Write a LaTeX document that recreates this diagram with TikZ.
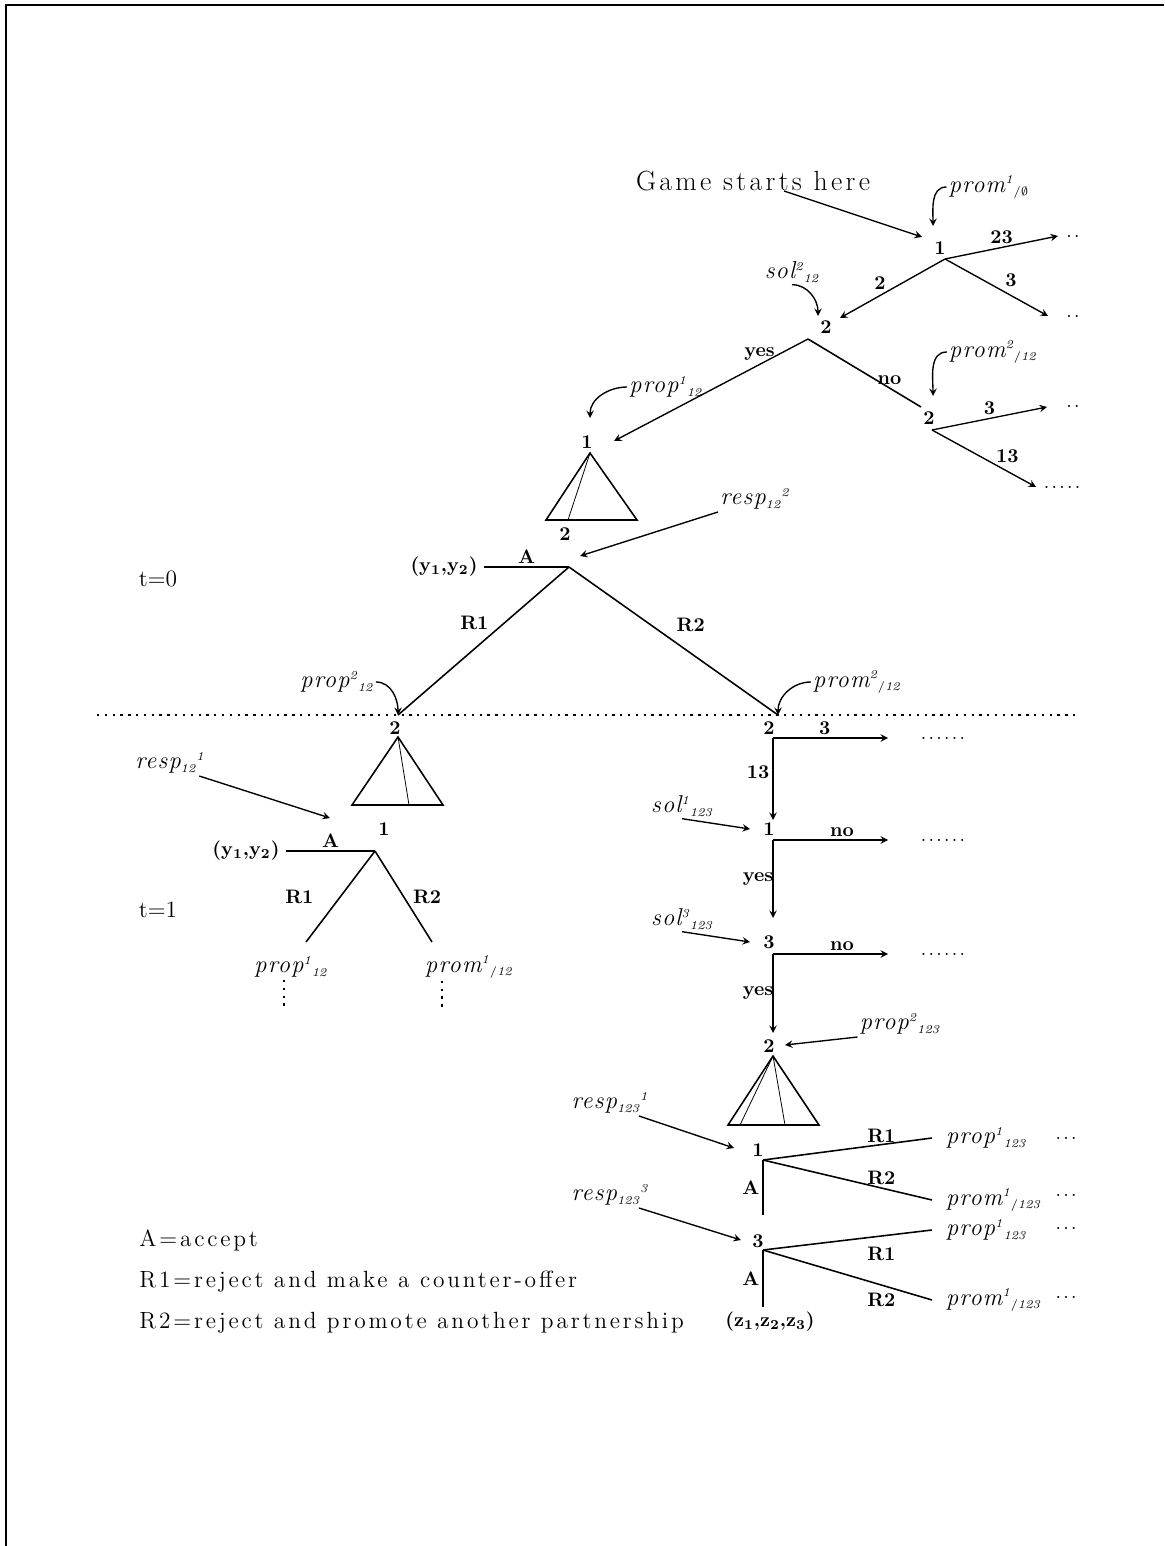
\documentclass[tikz,border=0pt]{standalone}
\usepackage{fontspec}
\newfontfamily\widefont{Latin Modern Roman}[LetterSpace=12]
\newcommand{\ulab}[3]{{\widefont\addfontfeature{LetterSpace=5}\itshape #1}$^{\scriptscriptstyle\mathit{#2}}{}_{\scriptscriptstyle\mathit{#3}}$}
\newcommand{\dlab}[3]{{\widefont\addfontfeature{LetterSpace=5}\itshape #1}$_{\scriptscriptstyle\mathit{#2}}{}^{\scriptscriptstyle\mathit{#3}}$}

\begin{document}
\begin{tikzpicture}[x=0.018cm,y=-0.018cm,>=stealth,
  pl/.style={font=\bfseries,inner sep=1pt},
  act/.style={font=\bfseries,inner sep=1.5pt},
  lab/.style={font=\fontsize{12.5}{14}\selectfont,inner sep=1pt},
  edge/.style={line width=0.8pt},
  arr/.style={->,line width=0.7pt},
  dotline/.style={line width=0.9pt,dash pattern=on 1.2pt off 2.8pt},
  dots/.style={font=\widefont,inner sep=1pt},
  legend/.style={font=\widefont\fontsize{12}{14}\selectfont,anchor=west,inner sep=0pt}]
\useasboundingbox (0,0) rectangle (1164,1546);
% marc
\draw[line width=1.2pt] (6,1546) -- (6,5) -- (1164,5);

% t=0: 1 tria soci
\node[font=\widefont\fontsize{14.2}{17}\selectfont] (start) at (753,181) {Game starts here};
\coordinate (g0) at (784,191);
\coordinate (t1) at (922,237);
\draw[arr] (g0) -- (t1);
\node[pl] (n1) at (940,248) {1};
\coordinate (b1) at (945,259);
\node[lab] (pm1) at (989,187) {\ulab{prom}{1}{/\emptyset}};
\coordinate (c1) at (933,226);
\draw[arr] (pm1.west) to[out=180,in=90] (c1);
\node[dots] (d1) at (1073,236) {..};
\node[dots] (d2) at (1073,316) {..};
\coordinate (e1) at (1058,236);
\coordinate (e2) at (1048,316);
\coordinate (e3) at (840,318);
\draw[arr] (b1) -- (e1) node[act,midway,above]{23};
\draw[arr] (b1) -- (e2) node[act,pos=0.55,above right]{3};
\draw[arr] (b1) -- (e3) node[act,pos=0.55,above left=-1pt]{2};

% 2 accepta o no
\node[pl] (n2) at (826,327) {2};
\coordinate (b2) at (808,339);
\node[lab] (so2) at (792,272) {\ulab{sol}{2}{12}};
\coordinate (c2) at (818,316);
\draw[arr] (so2.south) to[out=0,in=90] (c2);
\coordinate (e4) at (614,441);
\coordinate (e5) at (921,407);
\draw[arr] (b2) -- (e4) node[act,pos=0.25,above]{yes};
\draw[edge] (b2) -- (e5) node[act,pos=0.72,above]{no};

% 2 promou una altra coalicio
\node[pl] (n3) at (929,418) {2};
\coordinate (b3) at (932,430);
\node[lab] (pm2) at (993,352) {\ulab{prom}{2}{/12}};
\coordinate (c3) at (933,396);
\draw[arr] (pm2.west) to[out=180,in=90] (c3);
\node[dots] (d3) at (1073,406) {..};
\node[dots] (d4) at (1062,487) {.....};
\coordinate (e6) at (1047,407);
\coordinate (e7) at (1036,487);
\draw[arr] (b3) -- (e6) node[act,midway,above]{3};
\draw[arr] (b3) -- (e7) node[act,pos=0.6,above right=-1pt]{13};

% 1 proposa a 2
\node[pl] (n4) at (587,442) {1};
\node[lab] (pp1) at (666,387) {\ulab{prop}{1}{12}};
\coordinate (c4) at (590,418);
\draw[arr] (pp1.west) to[out=180,in=90] (c4);
\coordinate (a1) at (590,453);
\draw[edge] (a1) -- (546,520) -- (637,520) -- cycle;
\draw (a1) -- (568,520);
\node[pl] (n5) at (565,534) {2};

% 2 respon
\node[lab] (rs2) at (755,499) {\dlab{resp}{12}{2}};
\coordinate (c5) at (580,556);
\draw[arr] (rs2.south west) -- (c5);
\coordinate (b4) at (569,567);
\node (y0) at (444,567) {\textbf{(y\textsubscript{1},y\textsubscript{2})}};
\draw[edge] (b4) -- (y0.east) node[act,midway,above]{A};
\coordinate (b5) at (398,715);
\coordinate (b6) at (778,715);
\draw[edge] (b4) -- (b5) node[act,pos=0.45,above left]{R1};
\draw[edge] (b4) -- (b6) node[act,pos=0.46,anchor=south west,xshift=4pt]{R2};
\node[font=\large] (p0) at (158,579) {t=0};

% canvi de periode
\coordinate (dl) at (97,715);
\coordinate (dr) at (1080,715);
\draw[dotline] (dl) -- (dr);
\node[lab] (pp2) at (337,682) {\ulab{prop}{2}{12}};
\draw[arr] (pp2.east) to[out=0,in=90] (b5);
\node[lab] (pm3) at (857,682) {\ulab{prom}{2}{/12}};
\draw[arr] (pm3.west) to[out=180,in=90] (b6);

% t=1, esquerra: 2 proposa a 1
\node[pl] (n6) at (395,728) {2};
\coordinate (a2) at (398,737);
\draw[edge] (a2) -- (352,805) -- (443,805) -- cycle;
\draw (a2) -- (409,805);
\node[pl] (n7) at (384,829) {1};
\node[lab] (rs1) at (170,763) {\dlab{resp}{12}{1}};
\coordinate (c6) at (330,818);
\draw[arr] ([xshift=-4pt]rs1.south east) -- (c6);
\coordinate (b7) at (375,851);
\node (y1) at (246,851) {\textbf{(y\textsubscript{1},y\textsubscript{2})}};
\draw[edge] (b7) -- (y1.east) node[act,midway,above]{A};
\coordinate (e8) at (306,942);
\coordinate (e9) at (432,942);
\draw[edge] (b7) -- (e8) node[act,midway,left=12pt]{R1};
\draw[edge] (b7) -- (e9) node[act,midway,right=3pt]{R2};
\node[lab] (pq1) at (291,967) {\ulab{prop}{1}{12}};
\node[lab] (pq2) at (469,967) {\ulab{prom}{1}{/12}};
\draw[dotline] ([xshift=-3.5pt]pq1.south) -- ++(0,26);
\draw[dotline] ([xshift=-14pt]pq2.south) -- ++(0,26);
\node[font=\large] (p1) at (158,910) {t=1};

% t=1, dreta: 2 promou 123
\node[pl] (n8) at (769,728) {2};
\coordinate (b8) at (773,738);
\coordinate (e10) at (888,738);
\coordinate (e11) at (773,820);
\draw[arr] (b8) -- (e10) node[act,pos=0.45,above]{3};
\draw[arr] (b8) -- (e11) node[act,pos=0.42,left]{13};
\node[dots] (d5) at (943,738) {......};
\node[lab] (so1) at (682,806) {\ulab{sol}{1}{123}};
\coordinate (c7) at (750,829);
\draw[arr] (so1.south) -- (c7);
\node[pl] (n9) at (769,829) {1};
\coordinate (b9) at (773,840);
\coordinate (e12) at (888,840);
\coordinate (e13) at (773,918);
\draw[arr] (b9) -- (e12) node[act,pos=0.6,above]{no};
\draw[arr] (b9) -- (e13) node[act,midway,left=-2pt]{yes};
\node[dots] (d6) at (943,840) {......};
\node[lab] (so3) at (682,919) {\ulab{sol}{3}{123}};
\coordinate (c8) at (750,942);
\draw[arr] (so3.south) -- (c8);
\node[pl] (n10) at (769,942) {3};
\coordinate (b10) at (773,954);
\coordinate (e14) at (888,954);
\coordinate (e15) at (773,1033);
\draw[arr] (b10) -- (e14) node[act,pos=0.6,above]{no};
\draw[arr] (b10) -- (e15) node[act,midway,left=-2pt]{yes};
\node[dots] (d7) at (943,954) {......};

% 2 proposa a 123
\node[pl] (n11) at (769,1046) {2};
\node[lab] (pp3) at (900,1024) {\ulab{prop}{2}{123}};
\coordinate (c9) at (785,1045);
\draw[arr] (pp3.south west) -- (c9);
\coordinate (a3) at (773,1056);
\draw[edge] (a3) -- (728,1125) -- (819,1125) -- cycle;
\draw (a3) -- (740,1125);
\draw (a3) -- (785,1125);

% respostes de 1 i 3
\node[lab] (rs3) at (610,1103) {\dlab{resp}{123}{1}};
\coordinate (c10) at (734,1148);
\draw[arr] ([xshift=-6pt]rs3.south east) -- (c10);
\node[pl] (n12) at (758,1150) {1};
\coordinate (b11) at (763,1160);
\node[lab,anchor=west,inner xsep=7pt] (q1) at (932,1138) {\ulab{prop}{1}{123}};
\node[lab,anchor=west,inner xsep=7pt] (q2) at (932,1200) {\ulab{prom}{1}{/123}};
\coordinate (f1) at (763,1215);
\draw[edge] (b11) -- (q1.west) node[act,pos=0.7,above=-1pt]{R1};
\draw[edge] (b11) -- (q2.west) node[act,pos=0.7,above]{R2};
\draw[edge] (b11) -- (f1) node[act,midway,left]{A};
\node[dots] (d8) at (1066,1138) {...};
\node[dots] (d9) at (1066,1195) {...};

\node[lab] (rs4) at (610,1195) {\dlab{resp}{123}{3}};
\coordinate (c11) at (741,1240);
\draw[arr] ([xshift=-6pt]rs4.south east) -- (c11);
\node[pl] (n13) at (758,1241) {3};
\coordinate (b12) at (763,1250);
\node[lab,anchor=west,inner xsep=7pt] (q3) at (932,1230) {\ulab{prop}{1}{123}};
\node[lab,anchor=west,inner xsep=7pt] (q4) at (932,1300) {\ulab{prom}{1}{/123}};
\coordinate (f2) at (763,1307);
\node (z0) at (770,1322) {\textbf{(z\textsubscript{1},z\textsubscript{2},z\textsubscript{3})}};
\draw[edge] (b12) -- (q3.west) node[act,pos=0.7,below=4pt]{R1};
\draw[edge] (b12) -- (q4.west) node[act,pos=0.7,below=2pt]{R2};
\draw[edge] (b12) -- (f2) node[act,midway,left]{A};
\node[dots] (d10) at (1066,1228) {...};
\node[dots] (d11) at (1066,1297) {...};

% llegenda
\node[legend] (k1) at (139,1240) {A=accept};
\node[legend] (k2) at (139,1282) {R1=reject and make a counter-offer};
\node[legend] (k3) at (139,1323) {R2=reject and promote another partnership};
\end{tikzpicture}
\end{document}
